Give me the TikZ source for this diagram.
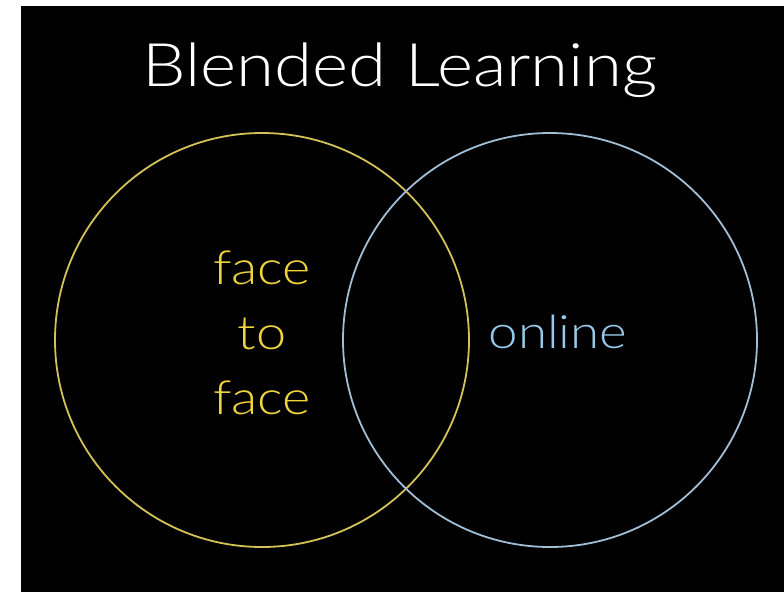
\documentclass[tikz,border=0pt]{standalone}
\usepackage{fontspec}
\setmainfont{Lato Light}[FakeStretch=1.15]
\usepackage{tikz}

\definecolor{ftfyellow}{RGB}{240,212,60}
\definecolor{ftfline}{RGB}{210,194,88}
\definecolor{onlineblue}{RGB}{150,202,235}
\definecolor{onlineline}{RGB}{160,190,212}

\begin{document}
\begin{tikzpicture}[x=1pt, y=-1pt]
	\fill[white] (0, 0) rectangle (784, 592);
	\fill[black] (21, 6) rectangle (784, 592);
	\useasboundingbox (0, 0) rectangle (784, 592);

	\node[text=white, font=\fontsize{60}{60}\selectfont] (title) at (400, 70) {Blended Learning};

	\node[shape=circle, draw=ftfline, line width=1.8pt, minimum size=414pt] (C1) at (262, 340) {};
	\node[shape=circle, draw=onlineline, line width=1.8pt, minimum size=414pt] (C2) at (550, 340) {};

	\node[text=ftfyellow, align=center, font=\fontsize{47}{65}\selectfont] (ftf) at (262, 333) {face\\to\\face};
	\node[text=onlineblue, font=\fontsize{46}{65}\selectfont] (online) at (558, 332) {online};

\end{tikzpicture}
\end{document}
